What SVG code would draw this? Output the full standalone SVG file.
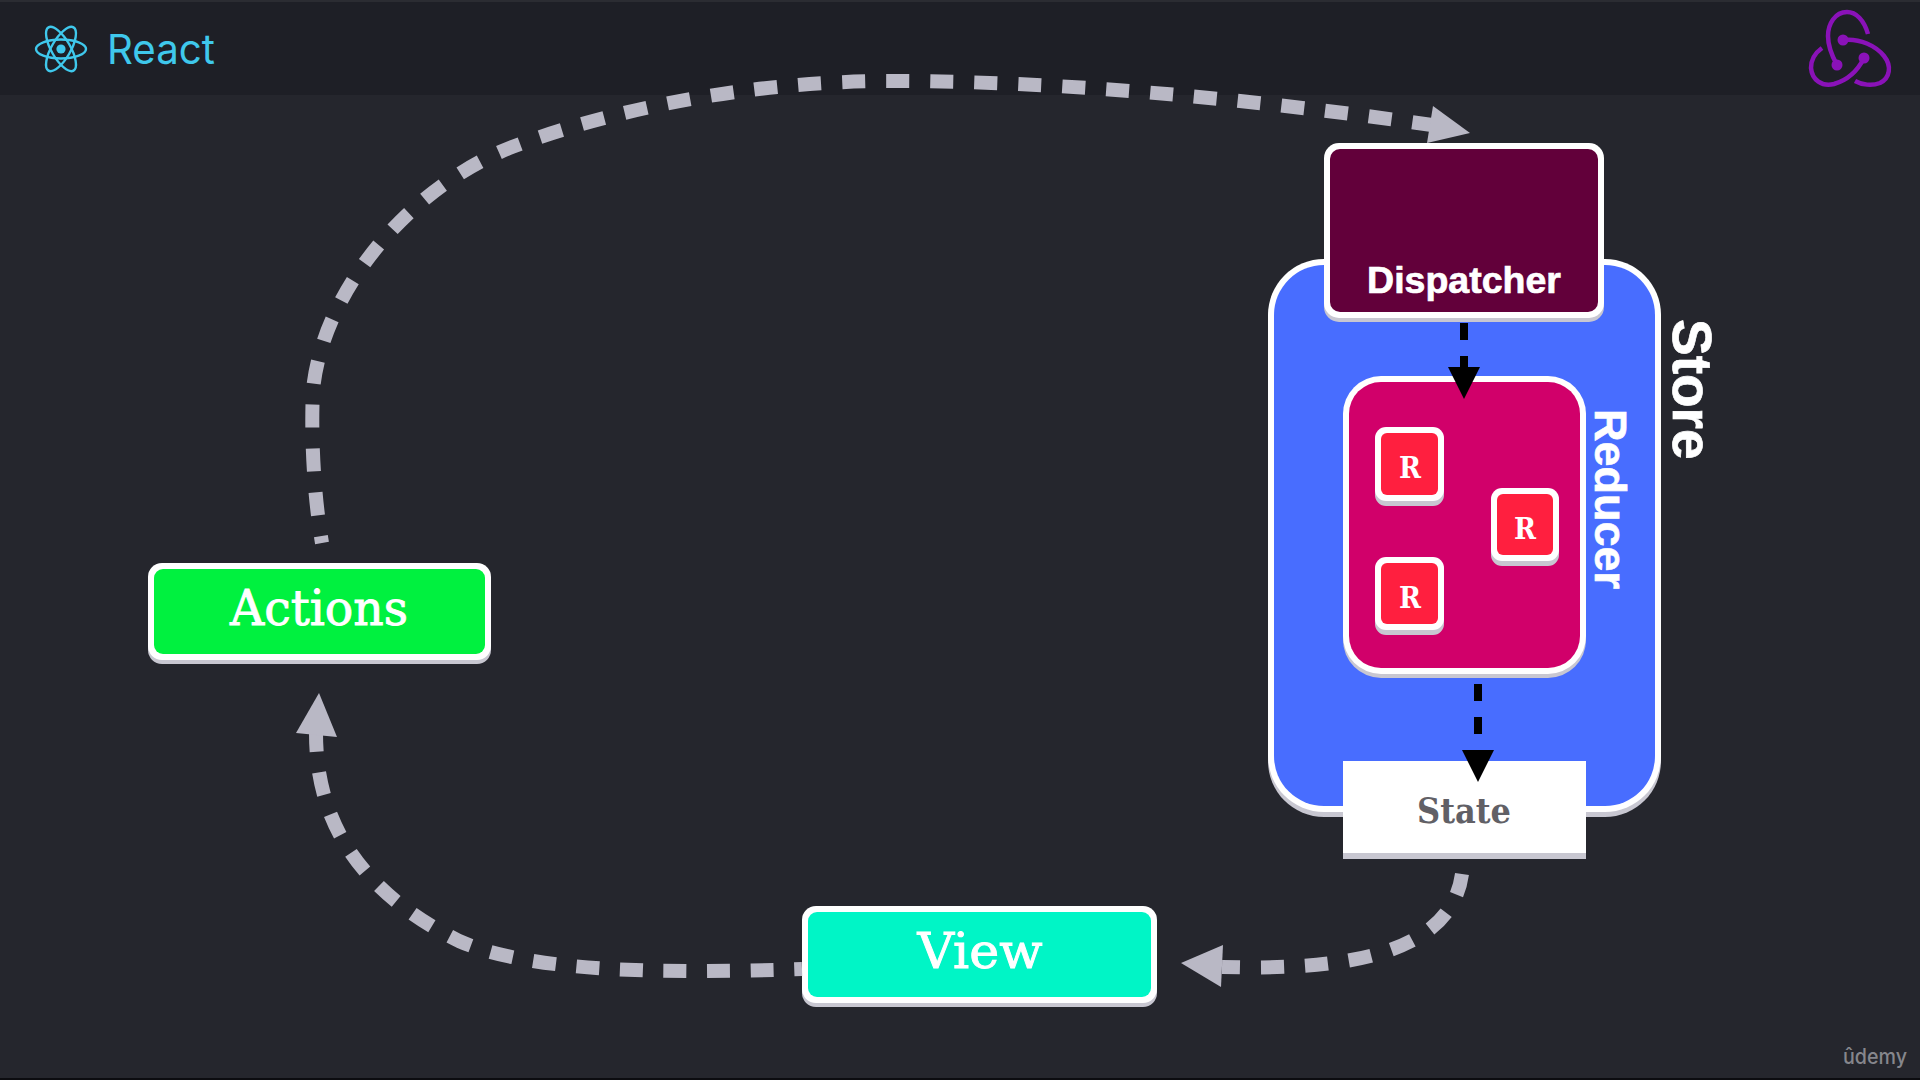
<svg xmlns="http://www.w3.org/2000/svg" width="1920" height="1080" viewBox="0 0 1920 1080">
<defs>
<style>
.sh{fill:#c8c7d1}.wh{fill:#fff}
.sans{font-family:"Liberation Sans",Arial,sans-serif;font-weight:700;fill:#fff;stroke:#fff;stroke-width:.7}
.slab{font-family:"DejaVu Serif",serif;fill:#fff;stroke:#fff;stroke-width:.9;text-anchor:middle}
.mono{font-family:"DejaVu Serif",serif;font-weight:700;font-size:30px;fill:#fff;text-anchor:middle}
.dash{fill:none;stroke:#b9b8c5;stroke-width:14;stroke-dasharray:23 21}
.head{fill:#b9b8c5}
.bl{stroke:#000;stroke-width:8;fill:none;stroke-dasharray:17 16;marker-end:url(#tip)}
.rx{fill:none;stroke:#3fc8ec;stroke-width:2.4}
.rd{fill:none;stroke:#8a12b8;stroke-width:4.5;stroke-linecap:butt}
.rdd{fill:#8a12b8}
.rbox{fill:#ff1f3f}
</style>
<marker id="tip" markerUnits="userSpaceOnUse" markerWidth="34" markerHeight="34" refX="0" refY="17" orient="auto" viewBox="0 0 34 34"><path d="M0,1L32,17L0,33Z" fill="#000"/></marker>
</defs>
<rect width="1920" height="1080" fill="#25262d"/>
<g id="header">
<rect width="1920" height="95" fill="#1e1f26"/>
<rect width="1920" height="2" fill="#2b2c32"/>
<rect y="1078" width="1920" height="2" fill="#0c0c10"/>
</g>
<g id="react-logo">
<ellipse class="rx" cx="61" cy="49" rx="25" ry="9.5"/>
<ellipse class="rx" cx="61" cy="49" rx="25" ry="9.5" transform="rotate(60 61 49)"/>
<ellipse class="rx" cx="61" cy="49" rx="25" ry="9.5" transform="rotate(120 61 49)"/>
<circle cx="61" cy="49" r="4.6" fill="#3fc8ec"/>
<text x="107" y="64" font-family="Inter,sans-serif" font-size="41" fill="#3fc8ec" textLength="108" lengthAdjust="spacingAndGlyphs">React</text>
</g>
<g id="redux-logo">
<path class="rd" d="M1868,34C1864,20 1856,12 1847,12C1835,12 1828,24 1828,36C1828,46 1832,56 1837,65"/>
<circle class="rdd" cx="1837" cy="65" r="5.5"/>
<path class="rd" d="M1843,40C1860,38 1876,46 1884,56C1892,66 1890,78 1880,83C1872,86 1862,85 1855,81"/>
<circle class="rdd" cx="1843" cy="40" r="5.5"/>
<path class="rd" d="M1864,58C1858,70 1848,80 1834,84C1822,87 1812,80 1811,68C1811,60 1815,53 1822,48"/>
<circle class="rdd" cx="1864" cy="58" r="5.5"/>
</g>
<g id="store">
<rect class="sh" x="1268" y="264" width="393" height="553" rx="56"/>
<rect class="wh" x="1268" y="259" width="393" height="553" rx="56"/>
<rect x="1274" y="265" width="381" height="541" rx="50" fill="#486dff"/>
<text class="sans" font-size="55" transform="translate(1673 319) rotate(90)">Store</text>
</g>
<g id="dispatcher">
<rect class="sh" x="1324" y="148" width="280" height="174" rx="15"/>
<rect class="wh" x="1324" y="143" width="280" height="175" rx="15"/>
<rect x="1330" y="149" width="268" height="163" rx="10" fill="#62003a"/>
<text class="sans" font-size="37.5" x="1464" y="293" text-anchor="middle">Dispatcher</text>
</g>
<g id="reducer">
<rect class="sh" x="1343" y="381" width="243" height="297" rx="38"/>
<rect class="wh" x="1343" y="376" width="243" height="298" rx="38"/>
<rect x="1349" y="382" width="231" height="286" rx="32" fill="#d1006a"/>
<text class="sans" font-size="45" transform="translate(1595 409) rotate(90)">Reducer</text>
</g>
<g id="r1">
<rect class="sh" x="1375" y="432" width="69" height="74" rx="11"/>
<rect class="wh" x="1375" y="427" width="69" height="74" rx="11"/>
<rect class="rbox" x="1381" y="433" width="57" height="62" rx="6"/>
<text class="mono" x="1410" y="478" textLength="22" lengthAdjust="spacingAndGlyphs">R</text>
</g>
<g id="r2">
<rect class="sh" x="1491" y="493" width="68" height="73" rx="11"/>
<rect class="wh" x="1491" y="488" width="68" height="73" rx="11"/>
<rect class="rbox" x="1497" y="494" width="56" height="61" rx="6"/>
<text class="mono" x="1525" y="539" textLength="22" lengthAdjust="spacingAndGlyphs">R</text>
</g>
<g id="r3">
<rect class="sh" x="1375" y="562" width="69" height="73" rx="11"/>
<rect class="wh" x="1375" y="557" width="69" height="73" rx="11"/>
<rect class="rbox" x="1381" y="563" width="57" height="61" rx="6"/>
<text class="mono" x="1410" y="608" textLength="22" lengthAdjust="spacingAndGlyphs">R</text>
</g>
<g id="state">
<rect class="sh" x="1343" y="761" width="243" height="98"/>
<rect class="wh" x="1343" y="761" width="243" height="92"/>
<text class="slab" font-size="36" font-weight="700" x="1464" y="823" style="fill:#616066;stroke:none" textLength="94" lengthAdjust="spacingAndGlyphs">State</text>
</g>
<g id="actions">
<rect class="sh" x="148" y="568" width="343" height="96" rx="14"/>
<rect class="wh" x="148" y="563" width="343" height="97" rx="14"/>
<rect x="154" y="569" width="331" height="85" rx="9" fill="#00f13f"/>
<text class="slab" font-size="48" x="319" y="625" textLength="178" lengthAdjust="spacingAndGlyphs">Actions</text>
</g>
<g id="view">
<rect class="sh" x="802" y="911" width="355" height="96" rx="14"/>
<rect class="wh" x="802" y="906" width="355" height="97" rx="14"/>
<rect x="808" y="912" width="343" height="85" rx="9" fill="#00f5c6"/>
<text class="slab" font-size="48" x="980" y="968" textLength="125" lengthAdjust="spacingAndGlyphs">View</text>
</g>
<g id="udemy">
<text x="1843" y="1064" font-family="Inter,sans-serif" font-weight="500" font-size="21" fill="#86868c" textLength="64" lengthAdjust="spacingAndGlyphs">ûdemy</text>
</g>
<g id="connectors">
<path class="dash" stroke-dashoffset="3" d="M1432,125C1300,106 1100,82 900,81C740,80 600,114 512,147C405,189 322,295 313,390C311,430 313,490 322,543"/>
<polygon class="head" points="1433,106 1470,133 1427,143"/>
<path class="dash" stroke-dashoffset="4" style="stroke-dasharray:23 20.6" d="M316,733C316,800 340,882 459,941C530,972 660,974 802,969"/>
<polygon class="head" points="319,693 296,733 337,737"/>
<path class="dash" stroke-dashoffset="5" d="M1222,967C1330,970 1450,960 1462,874"/>
<polygon class="head" points="1181,963 1223,945 1221,987"/>
<path class="bl" d="M1464,323V367"/>
<path class="bl" d="M1478,684V750"/>
</g>
</svg>
